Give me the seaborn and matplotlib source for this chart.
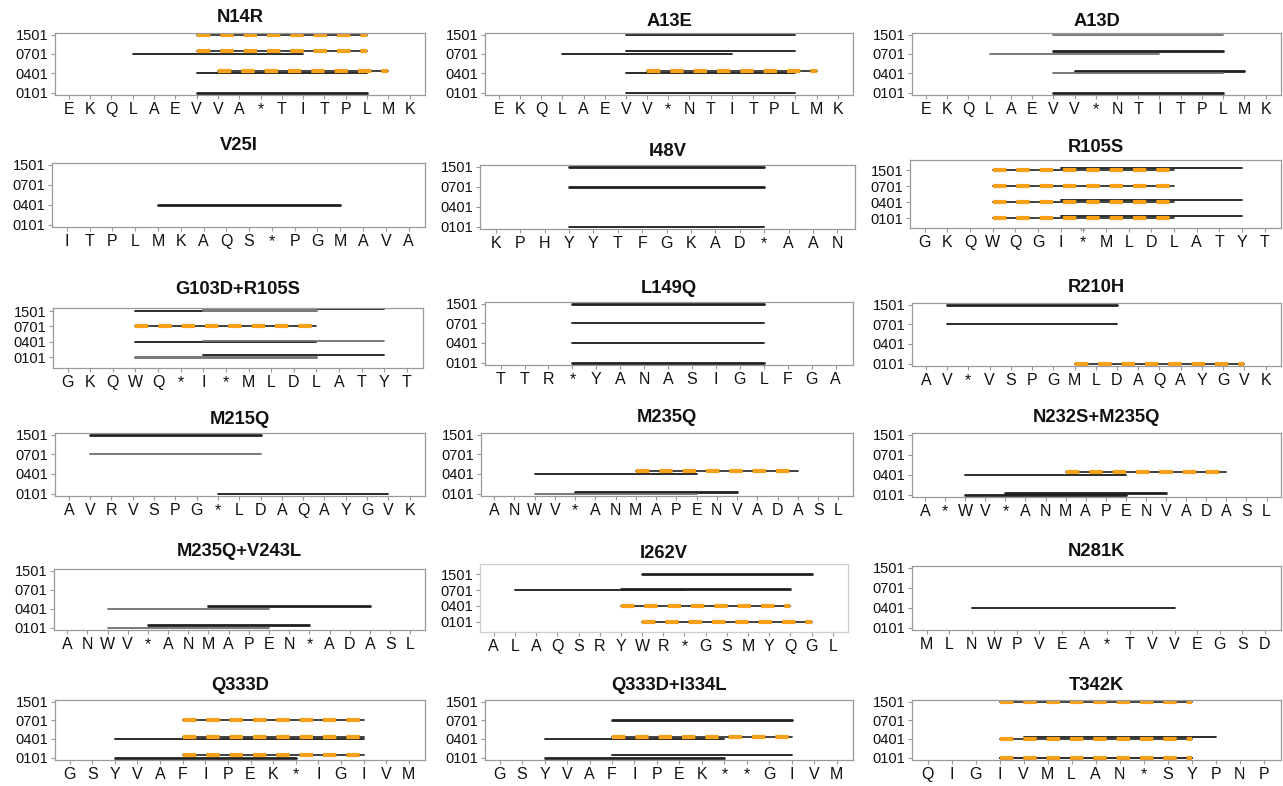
import numpy as np
import pandas as pd
import matplotlib
matplotlib.use("Agg")
import matplotlib.pyplot as plt
import seaborn as sns

sns.set_theme(style="white")
plt.rcParams['font.family'] = ['Liberation Sans', 'DejaVu Sans']

# HLA-DRB1 alleles on the y axis (bottom to top)
alleles = ["0101", "0401", "0701", "1501"]

# Each panel: residue window (x tick labels) and binding cores as
# (allele, first residue index, last residue index, kind, lane)
# kind: "k"/"K" strong core, "g"/"G" weak core, "o" mutant-specific core
N14R_seq = ["E", "K", "Q", "L", "A", "E", "V", "V", "A", "*", "T", "I", "T", "P", "L", "M", "K"]
N14R_seg = [("1501", 6, 14, "o", 0), ("0701", 3, 11, "k", 0), ("0701", 6, 14, "o", 1),
            ("0401", 6, 14, "k", 0), ("0401", 7, 15, "o", 1), ("0101", 6, 14, "K", 0)]

A13E_seq = ["E", "K", "Q", "L", "A", "E", "V", "V", "*", "N", "T", "I", "T", "P", "L", "M", "K"]
A13E_seg = [("1501", 6, 14, "k", 0), ("0701", 3, 11, "k", 0), ("0701", 6, 14, "k", 1),
            ("0401", 6, 14, "k", 0), ("0401", 7, 15, "o", 1), ("0101", 6, 14, "k", 0)]

A13D_seq = ["E", "K", "Q", "L", "A", "E", "V", "V", "*", "N", "T", "I", "T", "P", "L", "M", "K"]
A13D_seg = [("1501", 6, 14, "g", 0), ("0701", 3, 11, "g", 0), ("0701", 6, 14, "K", 1),
            ("0401", 6, 14, "g", 0), ("0401", 7, 15, "K", 1), ("0101", 6, 14, "K", 0)]

V25I_seq = ["I", "T", "P", "L", "M", "K", "A", "Q", "S", "*", "P", "G", "M", "A", "V", "A"]
V25I_seg = [("0401", 4, 12, "K", 0)]

I48V_seq = ["K", "P", "H", "Y", "Y", "T", "F", "G", "K", "A", "D", "*", "A", "A", "N"]
I48V_seg = [("1501", 3, 11, "K", 0), ("0701", 3, 11, "K", 0), ("0101", 3, 11, "k", 0)]

R105S_seq = ["G", "K", "Q", "W", "Q", "G", "I", "*", "M", "L", "D", "L", "A", "T", "Y", "T"]
R105S_seg = [("1501", 3, 11, "o", 0), ("1501", 6, 14, "k", 1), ("0701", 3, 11, "o", 0),
             ("0401", 3, 11, "o", 0), ("0401", 6, 14, "k", 1),
             ("0101", 3, 11, "o", 0), ("0101", 6, 14, "k", 1)]

G103D_seq = ["G", "K", "Q", "W", "Q", "*", "I", "*", "M", "L", "D", "L", "A", "T", "Y", "T"]
G103D_seg = [("1501", 3, 11, "k", 0), ("1501", 6, 11, "G", 0.5), ("1501", 6, 14, "k", 1),
             ("0701", 3, 11, "o", 0),
             ("0401", 3, 11, "k", 0), ("0401", 6, 14, "g", 0.6),
             ("0101", 3, 11, "G", 0), ("0101", 6, 14, "k", 1)]

L149Q_seq = ["T", "T", "R", "*", "Y", "A", "N", "A", "S", "I", "G", "L", "F", "G", "A"]
L149Q_seg = [("1501", 3, 11, "K", 0), ("0701", 3, 11, "k", 0), ("0401", 3, 11, "k", 0),
             ("0101", 3, 11, "K", 0)]

R210H_seq = ["A", "V", "*", "V", "S", "P", "G", "M", "L", "D", "A", "Q", "A", "Y", "G", "V", "K"]
R210H_seg = [("1501", 1, 9, "K", 0), ("0701", 1, 9, "k", 0), ("0101", 7, 15, "o", 0)]

M215Q_seq = ["A", "V", "R", "V", "S", "P", "G", "*", "L", "D", "A", "Q", "A", "Y", "G", "V", "K"]
M215Q_seg = [("1501", 1, 9, "K", 0), ("0701", 1, 9, "g", 0), ("0101", 7, 15, "k", 0)]

M235Q_seq = ["A", "N", "W", "V", "*", "A", "N", "M", "A", "P", "E", "N", "V", "A", "D", "A", "S", "L"]
M235Q_seg = [("0401", 2, 10, "k", 0), ("0401", 7, 15, "o", 1),
             ("0101", 2, 10, "g", 0), ("0101", 4, 12, "K", 0.7)]

N232S_seq = ["A", "*", "W", "V", "*", "A", "N", "M", "A", "P", "E", "N", "V", "A", "D", "A", "S", "L"]
N232S_seg = [("0401", 2, 10, "k", 0), ("0401", 7, 15, "o", 1),
             ("0101", 2, 10, "K", 0), ("0101", 4, 12, "K", 0.7)]

V243L_seq = ["A", "N", "W", "V", "*", "A", "N", "M", "A", "P", "E", "N", "*", "A", "D", "A", "S", "L"]
V243L_seg = [("0401", 2, 10, "g", 0), ("0401", 7, 15, "K", 1),
             ("0101", 2, 10, "g", 0), ("0101", 4, 12, "K", 1)]

I262V_seq = ["A", "L", "A", "Q", "S", "R", "Y", "W", "R", "*", "G", "S", "M", "Y", "Q", "G", "L"]
I262V_seg = [("1501", 7, 15, "K", 0), ("0701", 1, 9, "k", 0), ("0701", 6, 14, "K", 0.4),
             ("0401", 6, 14, "o", 0), ("0101", 7, 15, "o", 0)]

N281K_seq = ["M", "L", "N", "W", "P", "V", "E", "A", "*", "T", "V", "V", "E", "G", "S", "D"]
N281K_seg = [("0401", 2, 11, "k", 0)]

Q333D_seq = ["G", "S", "Y", "V", "A", "F", "I", "P", "E", "K", "*", "I", "G", "I", "V", "M"]
Q333D_seg = [("0701", 5, 13, "o", 0), ("0401", 2, 13, "k", 0), ("0401", 5, 13, "o", 1),
             ("0101", 2, 10, "K", 0), ("0101", 5, 13, "o", 1)]

Q333DI_seq = ["G", "S", "Y", "V", "A", "F", "I", "P", "E", "K", "*", "*", "G", "I", "V", "M"]
Q333DI_seg = [("0701", 5, 13, "K", 0), ("0401", 2, 10, "k", 0), ("0401", 5, 13, "o", 1),
              ("0101", 2, 10, "K", 0), ("0101", 5, 13, "k", 1)]

T342K_seq = ["Q", "I", "G", "I", "V", "M", "L", "A", "N", "*", "S", "Y", "P", "N", "P"]
T342K_seg = [("1501", 3, 11, "o", 0), ("0401", 3, 11, "o", 0), ("0401", 4, 12, "k", 1),
             ("0101", 3, 11, "o", 0), ("0101", 3, 11, "k", 0)]

titles = ["N14R", "A13E", "A13D", "V25I", "I48V", "R105S",
          "G103D+R105S", "L149Q", "R210H", "M215Q", "M235Q", "N232S+M235Q",
          "M235Q+V243L", "I262V", "N281K", "Q333D", "Q333D+I334L", "T342K"]
seqs = [N14R_seq, A13E_seq, A13D_seq, V25I_seq, I48V_seq, R105S_seq,
        G103D_seq, L149Q_seq, R210H_seq, M215Q_seq, M235Q_seq, N232S_seq,
        V243L_seq, I262V_seq, N281K_seq, Q333D_seq, Q333DI_seq, T342K_seq]
segs = [N14R_seg, A13E_seg, A13D_seg, V25I_seg, I48V_seg, R105S_seg,
        G103D_seg, L149Q_seg, R210H_seg, M215Q_seg, M235Q_seg, N232S_seg,
        V243L_seg, I262V_seg, N281K_seg, Q333D_seg, Q333DI_seg, T342K_seg]

# panel frames in pixels: left, top, right, bottom; title centre height
W, H = 1283, 786
boxes = [(55, 33, 425, 95), (485, 33, 853, 95), (912, 33, 1281, 95),
         (52, 163, 425, 227), (480, 165, 855, 229), (910, 160, 1281, 228),
         (53, 308, 423, 368), (485, 302, 853, 365), (912, 303, 1281, 366),
         (55, 433, 425, 496), (481, 433, 853, 496), (912, 433, 1281, 497),
         (54, 569, 425, 630), (480, 564, 848, 632), (912, 566, 1281, 630),
         (55, 700, 425, 760), (485, 700, 853, 760), (912, 700, 1281, 760)]
title_y = [18, 21, 21, 145, 152, 147, 290, 289, 288,
           420, 418, 418, 552, 553, 552, 686, 686, 686]
# vertical ranges that differ from the default
ylims = {"R105S": (-0.6, 3.65), "G103D+R105S": (-0.7, 3.2), "I262V": (-0.65, 3.65)}

lane_step = 0.13
styles = {"k": ("#1a1a1a", 1.3), "K": ("#202020", 2.0),
          "g": ("#6e6e6e", 1.3), "G": ("#7a7a7a", 2.2)}
orange = "#f7a01a"

fig = plt.figure(figsize=(W / 100, H / 100), dpi=100)

for title, seq, seg, (l, t, r, b), ty in zip(titles, seqs, segs, boxes, title_y):
    ax = fig.add_axes([l / W, 1 - b / H, (r - l) / W, (b - t) / H])
    rows = []
    for i, (allele, s, e, kind, lane) in enumerate(seg):
        yv = alleles.index(allele) + lane * lane_step
        for xv in (s, e):
            rows.append({"seg": i, "x": xv, "y": yv, "kind": kind})
    df = pd.DataFrame(rows)

    for kind, (col, lw) in styles.items():
        sub = df[df["kind"] == kind]
        if len(sub):
            sns.lineplot(data=sub, x="x", y="y", units="seg", estimator=None,
                         sort=False, color=col, lw=lw, ax=ax, legend=False)
    sub = df[df["kind"] == "o"]
    if len(sub):
        sns.lineplot(data=sub, x="x", y="y", units="seg", estimator=None,
                     sort=False, color="#333333", lw=1.3, ax=ax, legend=False)
        sns.lineplot(data=sub, x="x", y="y", units="seg", estimator=None,
                     sort=False, color=orange, lw=3.0, ax=ax, legend=False,
                     linestyle=(0, (3.2, 2.4)), dash_capstyle="butt")

    n = len(seq)
    ax.set_xlim(-0.65, n - 1 + 0.72)
    ax.set_ylim(*ylims.get(title, (-0.12, 3.08)))
    ax.set_xticks(range(n))
    ax.set_xticklabels(seq, fontsize=11.5, color="#111111")
    ax.set_yticks(range(4))
    ax.set_yticklabels(alleles, fontsize=10.5, color="#111111")
    ax.set_xlabel("")
    ax.set_ylabel("")
    ax.tick_params(axis="both", length=3, width=0.8, color="#999999", pad=2,
                   bottom=True, left=True)
    frame = "#cfcfcf" if title == "I262V" else "#9a9a9a"
    for sp in ax.spines.values():
        sp.set_color(frame)
        sp.set_linewidth(0.9)
    fig.text((l + r) / 2 / W, 1 - ty / H, title, fontsize=13.2, fontweight="bold",
             color="#111111", ha="center", va="center")
    if title == "R105S":
        ax.text(7, -0.75, "Text", fontsize=2.5, color="#777777", ha="center",
                va="center", clip_on=False)

fig.savefig("out.png", dpi=100)
